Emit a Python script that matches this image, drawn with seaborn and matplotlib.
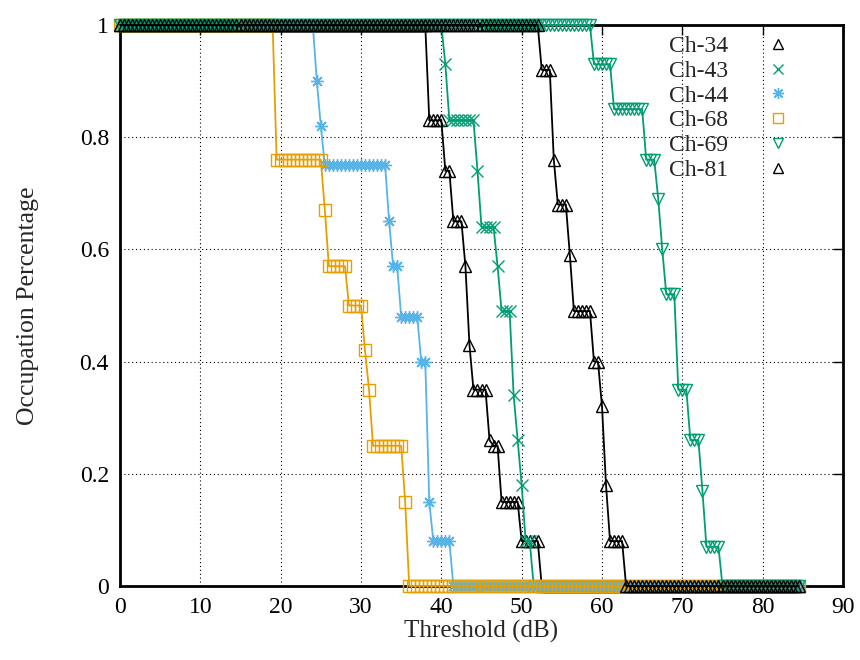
import numpy as np
import pandas as pd
import matplotlib
matplotlib.use("Agg")
import matplotlib.pyplot as plt
from matplotlib.lines import Line2D
import seaborn as sns

# Threshold grid (dB) at which occupation was evaluated
thresholds = np.arange(0, 85, 0.5)  # 0 .. 84.5

# Each series: occupation levels and how many consecutive thresholds hold that level
ch34_levels = [1.0, 0.83, 0.74, 0.65, 0.57, 0.43, 0.35, 0.26, 0.25, 0.15, 0.08, 0.0]
ch34_counts = [77, 4, 2, 3, 1, 1, 4, 1, 2, 5, 5, 65]

ch43_levels = [1.0, 0.93, 0.83, 0.74, 0.64, 0.57, 0.49, 0.34, 0.26, 0.18, 0.08, 0.0]
ch43_counts = [81, 1, 7, 1, 4, 1, 3, 1, 1, 1, 2, 67]

ch44_levels = [1.0, 0.90, 0.82, 0.75, 0.65, 0.57, 0.48, 0.40, 0.15, 0.08, 0.0]
ch44_counts = [49, 1, 1, 16, 1, 2, 5, 2, 1, 5, 87]

ch68_levels = [1.0, 0.76, 0.67, 0.57, 0.50, 0.42, 0.35, 0.25, 0.15, 0.0]
ch68_counts = [39, 12, 1, 5, 4, 1, 1, 8, 1, 98]

ch69_levels = [1.0, 0.93, 0.85, 0.76, 0.69, 0.60, 0.52, 0.35, 0.26, 0.17, 0.07, 0.0]
ch69_counts = [118, 5, 8, 3, 1, 1, 3, 3, 3, 1, 4, 20]

ch81_levels = [1.0, 0.92, 0.76, 0.68, 0.59, 0.49, 0.40, 0.32, 0.18, 0.08, 0.0]
ch81_counts = [105, 3, 1, 3, 1, 5, 2, 1, 1, 4, 44]

series_names = ["Ch-34", "Ch-43", "Ch-44", "Ch-68", "Ch-69", "Ch-81"]
series_levels = [ch34_levels, ch43_levels, ch44_levels, ch68_levels, ch69_levels, ch81_levels]
series_counts = [ch34_counts, ch43_counts, ch44_counts, ch68_counts, ch69_counts, ch81_counts]

colors = ["#000000", "#009E73", "#56B4E9", "#E69F00", "#009E73", "#000000"]
markers = ["^", "x", (8, 2, 0), "s", "v", "^"]
msizes = [8, 8, 9, 8.5, 8, 8]

xticks = [0, 10, 20, 30, 40, 50, 60, 70, 80, 90]
yticks = [0, 0.2, 0.4, 0.6, 0.8, 1.0]
ytick_labels = ["0", "0.2", "0.4", "0.6", "0.8", "1"]

sns.set_style("white")
plt.rcParams["font.family"] = ["Liberation Serif", "DejaVu Serif"]
plt.rcParams["mathtext.fontset"] = "stix"

fig = plt.figure(figsize=(8.6, 6.6), dpi=100)
ax = fig.add_axes([120 / 860, 1 - 586 / 660, 723 / 860, 561 / 660])

handles = []
for name, lv, ct, c, m, ms in zip(series_names, series_levels, series_counts, colors, markers, msizes):
    df = pd.DataFrame({"Threshold": thresholds, "Occupation": np.repeat(lv, ct)})
    sns.lineplot(data=df, x="Threshold", y="Occupation", ax=ax, color=c, linewidth=1.3,
                 marker=m, markersize=ms, markerfacecolor="none", markeredgecolor=c,
                 markeredgewidth=1.0, clip_on=False, legend=False, errorbar=None)
    handles.append(Line2D([], [], linestyle="none", marker=m, markersize=ms - 1,
                          markerfacecolor="none", markeredgecolor=c, markeredgewidth=1.0,
                          label=name))

ax.set_xlim(0, 90)
ax.set_ylim(0, 1)
ax.set_xticks(xticks)
ax.set_xticklabels([str(t) for t in xticks])
ax.set_yticks(yticks)
ax.set_yticklabels(ytick_labels)

ax.grid(True, color="black", linestyle=(0, (1, 2.5)), linewidth=0.8)
ax.set_axisbelow(True)
for s in ax.spines.values():
    s.set_linewidth(2.0)
    s.set_color("black")
    s.set_zorder(1.5)

ax.tick_params(axis="both", which="major", direction="in", length=7.5, width=1.0,
               top=True, right=True, labelsize=17, pad=8, colors="black")

ax.set_xlabel("Threshold (dB)", fontsize=18, labelpad=1)
ax.set_ylabel("Occupation Percentage", fontsize=18.5, labelpad=29)

leg = ax.legend(handles=handles, loc="upper right", bbox_to_anchor=(0.959, 1.0025),
                frameon=False, markerfirst=False, fontsize=17, labelspacing=0.14,
                handletextpad=1.1, handlelength=2.0, borderpad=0.0)

fig.savefig("out.png", dpi=100)
